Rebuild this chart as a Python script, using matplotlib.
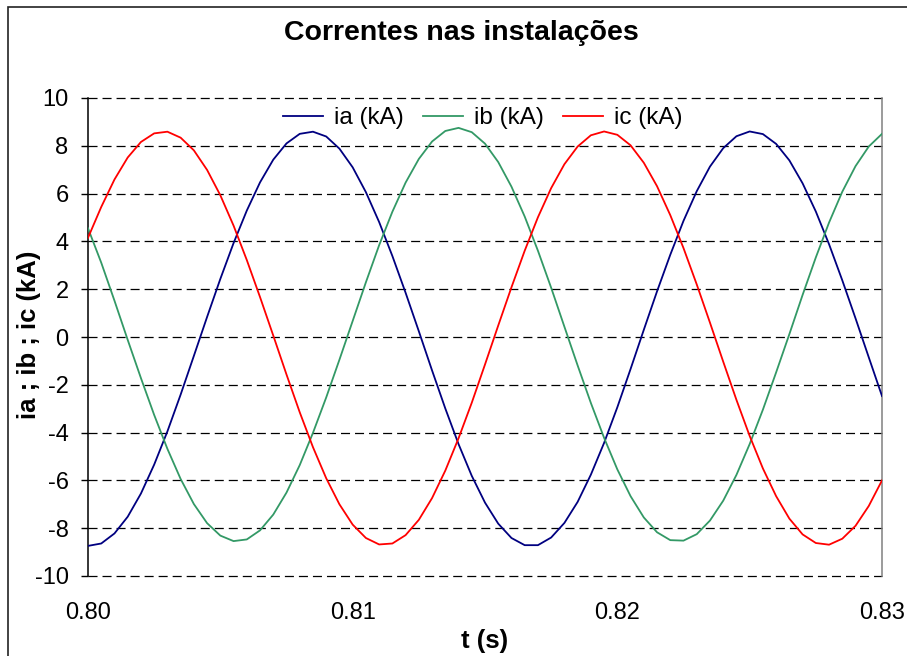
import numpy as np
import matplotlib
matplotlib.use("Agg")
import matplotlib.pyplot as plt
from matplotlib.patches import Rectangle

plt.rcParams['font.family'] = ['Liberation Sans', 'DejaVu Sans']
plt.rcParams['lines.scale_dashes'] = False

# sample times (s)
t = [0.8000, 0.8005, 0.8010, 0.8015, 0.8020, 0.8025, 0.8030, 0.8035, 0.8040, 0.8045,
     0.8050, 0.8055, 0.8060, 0.8065, 0.8070, 0.8075, 0.8080, 0.8085, 0.8090, 0.8095,
     0.8100, 0.8105, 0.8110, 0.8115, 0.8120, 0.8125, 0.8130, 0.8135, 0.8140, 0.8145,
     0.8150, 0.8155, 0.8160, 0.8165, 0.8170, 0.8175, 0.8180, 0.8185, 0.8190, 0.8195,
     0.8200, 0.8205, 0.8210, 0.8215, 0.8220, 0.8225, 0.8230, 0.8235, 0.8240, 0.8245,
     0.8250, 0.8255, 0.8260, 0.8265, 0.8270, 0.8275, 0.8280, 0.8285, 0.8290, 0.8295,
     0.8300]

# currents (kA)
ia = [-8.74, -8.64, -8.22, -7.52, -6.55, -5.34, -3.95, -2.41, -0.79, 0.84,
      2.43, 3.93, 5.29, 6.47, 7.42, 8.10, 8.50, 8.59, 8.39, 7.88,
      7.10, 6.06, 4.81, 3.39, 1.85, 0.24, -1.40, -2.99, -4.48, -5.81,
      -6.93, -7.81, -8.41, -8.71, -8.71, -8.39, -7.78, -6.90, -5.76, -4.43,
      -2.94, -1.34, 0.30, 1.91, 3.44, 4.86, 6.10, 7.13, 7.90, 8.40,
      8.60, 8.49, 8.08, 7.39, 6.43, 5.25, 3.88, 2.37, 0.78, -0.85,
      -2.47]
ib = [4.55, 3.11, 1.52, -0.12, -1.72, -3.26, -4.68, -5.94, -6.99, -7.79,
      -8.31, -8.54, -8.47, -8.09, -7.43, -6.51, -5.36, -4.01, -2.53, -0.95,
      0.67, 2.29, 3.84, 5.24, 6.46, 7.45, 8.18, 8.62, 8.75, 8.57,
      8.09, 7.32, 6.29, 5.04, 3.61, 2.06, 0.43, -1.19, -2.76, -4.22,
      -5.54, -6.66, -7.55, -8.17, -8.50, -8.52, -8.25, -7.68, -6.85, -5.77,
      -4.48, -3.04, -1.48, 0.12, 1.76, 3.33, 4.79, 6.08, 7.15, 7.97,
      8.50]
ic = [4.15, 5.44, 6.59, 7.51, 8.16, 8.52, 8.59, 8.34, 7.81, 6.99,
      5.93, 4.66, 3.22, 1.67, 0.06, -1.57, -3.15, -4.61, -5.91, -7.00,
      -7.85, -8.41, -8.68, -8.64, -8.29, -7.65, -6.74, -5.59, -4.24, -2.75,
      -1.15, 0.48, 2.08, 3.61, 5.01, 6.23, 7.23, 7.97, 8.44, 8.60,
      8.46, 8.02, 7.29, 6.31, 5.10, 3.72, 2.20, 0.60, -1.03, -2.63,
      -4.14, -5.50, -6.66, -7.60, -8.26, -8.62, -8.69, -8.44, -7.90, -7.07,
      -6.00]

labels = ['ia (kA)', 'ib (kA)', 'ic (kA)']
colors = ['#000080', '#339966', '#FF0000']
yticks = [-10, -8, -6, -4, -2, 0, 2, 4, 6, 8, 10]
xticks = [0.80, 0.81, 0.82, 0.83]

fig = plt.figure(figsize=(9.07, 6.56), dpi=100)
ax = fig.add_axes([88/907, 1-576/656, (882-88)/907, (576-98)/656])

for y in yticks:
    ax.axhline(y, color='black', lw=0.9, dashes=(6.5, 3.6), zorder=1, clip_on=False)

for s, lab, c in zip([ia, ib, ic], labels, colors):
    ax.plot(t, s, color=c, lw=1.3, label=lab, zorder=3)

ax.set_xlim(0.80, 0.83)
ax.set_ylim(-10, 10)
ax.set_yticks(yticks)
ax.set_yticklabels([str(v) for v in yticks])
ax.set_xticks(xticks)
ax.set_xticklabels(['%.2f' % v for v in xticks])
ax.tick_params(axis='y', direction='out', length=5, width=1, pad=9, labelsize=17)
ax.tick_params(axis='x', length=0, pad=19, labelsize=17)

ax.spines['top'].set_visible(False)
ax.spines['bottom'].set_visible(False)
ax.spines['left'].set_color('black')
ax.spines['left'].set_linewidth(1.1)
ax.spines['right'].set_color('#808080')
ax.spines['right'].set_linewidth(1.1)

ax.legend(loc='center', bbox_to_anchor=(0.497, 0.958), ncol=3, frameon=False,
          fontsize=17.5, handlelength=1.65, handletextpad=0.45, columnspacing=0.8,
          borderpad=0, borderaxespad=0)

fig.text(461/907, 1-33/656, 'Correntes nas instalações', ha='center', va='center',
         fontsize=20.5, fontweight='bold')
fig.text(29/907, 1-335/656, 'ia ; ib ; ic (kA)', ha='center', va='center',
         rotation=90, fontsize=18.5, fontweight='bold')
fig.text(485/907, 1-641/656, 't (s)', ha='center', va='center',
         fontsize=18.5, fontweight='bold')

fig.patches.append(Rectangle((8/907, -0.1), 1.2, 1-7/656+0.1, transform=fig.transFigure,
                             fill=False, edgecolor='#222222', lw=1.2))

fig.savefig('out.png', dpi=100)
